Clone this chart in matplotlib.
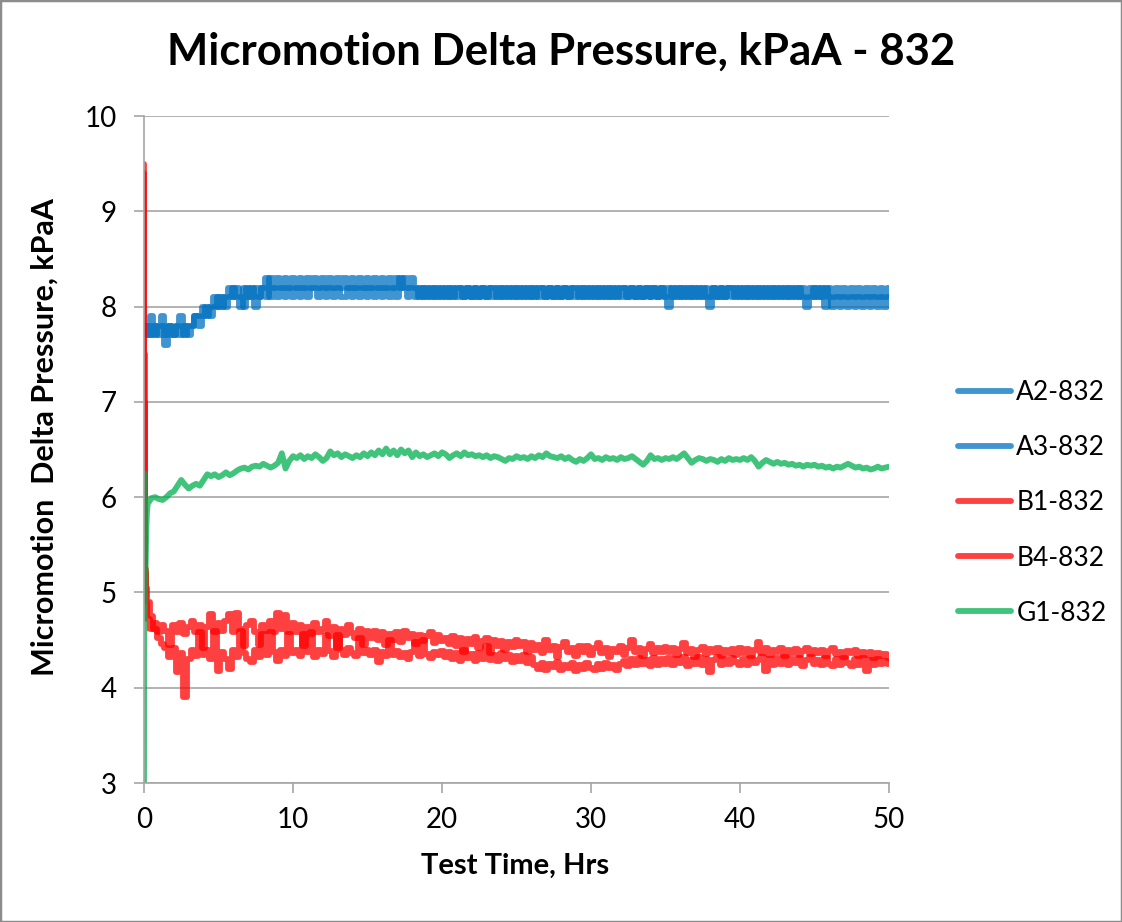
import matplotlib
matplotlib.use("Agg")
import matplotlib.pyplot as plt
import numpy as np
from matplotlib.patches import Rectangle

plt.rcParams['font.family'] = ['Lato', 'DejaVu Sans']

# sample times (hrs): a few early points for the start-up transient, then every 0.25 hr
time_early = [0.0, 0.02, 0.05, 0.1, 0.15, 0.2]
time_hrs = time_early + list(np.arange(0.25, 50.001, 0.25))

a2_832 = [7.7, 7.7, 7.8, 7.7, 7.8, 7.7,
          7.7, 7.9, 7.7, 7.8, 7.9, 7.6, 7.8, 7.7, 7.8, 7.9, 7.7, 7.8, 7.8, 7.9, 7.9, 8.0, 7.9, 8.0, 8.1, 8.0,
          8.1, 8.0, 8.1, 8.2, 8.1, 8.0, 8.2, 8.1, 8.2, 8.0, 8.1, 8.2, 8.3, 8.1, 8.2, 8.1, 8.2, 8.1, 8.2, 8.1,
          8.2, 8.1, 8.2, 8.1, 8.2, 8.2, 8.1, 8.2, 8.1, 8.2, 8.1, 8.2, 8.1, 8.1, 8.2, 8.1, 8.2, 8.1, 8.2, 8.1,
          8.2, 8.1, 8.2, 8.1, 8.2, 8.1, 8.2, 8.1, 8.3, 8.2, 8.1, 8.2, 8.1, 8.2, 8.1, 8.2, 8.1, 8.2, 8.1, 8.2,
          8.1, 8.2, 8.1, 8.2, 8.2, 8.1, 8.2, 8.1, 8.2, 8.1, 8.2, 8.1, 8.2, 8.2, 8.1, 8.2, 8.1, 8.2, 8.1, 8.2,
          8.1, 8.2, 8.1, 8.2, 8.1, 8.2, 8.2, 8.1, 8.2, 8.1, 8.2, 8.1, 8.2, 8.1, 8.2, 8.2, 8.1, 8.2, 8.1, 8.2,
          8.1, 8.2, 8.1, 8.2, 8.1, 8.2, 8.1, 8.2, 8.2, 8.1, 8.2, 8.1, 8.2, 8.1, 8.2, 8.1, 8.2, 8.1, 8.2, 8.1,
          8.0, 8.2, 8.1, 8.2, 8.1, 8.2, 8.1, 8.2, 8.1, 8.2, 8.1, 8.0, 8.2, 8.1, 8.2, 8.1, 8.2, 8.2, 8.1, 8.2,
          8.1, 8.2, 8.1, 8.2, 8.1, 8.2, 8.1, 8.2, 8.1, 8.2, 8.1, 8.2, 8.1, 8.2, 8.1, 8.2, 8.1, 8.0, 8.1, 8.2,
          8.1, 8.2, 8.0, 8.2, 8.1, 8.2, 8.1, 8.2, 8.1, 8.2, 8.1, 8.2, 8.1, 8.2, 8.1, 8.2, 8.1, 8.2, 8.1, 8.2]

a3_832 = [7.7, 7.8, 7.7, 7.8, 7.7, 7.8,
          7.8, 7.7, 7.8, 7.7, 7.8, 7.7, 7.8, 7.7, 7.8, 7.7, 7.8, 7.7, 7.8, 7.9, 7.8, 7.9, 8.0, 7.9, 8.0, 8.1,
          8.0, 8.1, 8.2, 8.1, 8.2, 8.1, 8.0, 8.2, 8.1, 8.2, 8.1, 8.2, 8.1, 8.3, 8.2, 8.3, 8.2, 8.3, 8.2, 8.3,
          8.2, 8.3, 8.2, 8.3, 8.2, 8.3, 8.2, 8.3, 8.2, 8.3, 8.2, 8.3, 8.2, 8.3, 8.2, 8.3, 8.2, 8.3, 8.2, 8.3,
          8.2, 8.3, 8.2, 8.3, 8.2, 8.3, 8.2, 8.3, 8.2, 8.3, 8.2, 8.3, 8.2, 8.1, 8.2, 8.1, 8.2, 8.1, 8.2, 8.1,
          8.2, 8.1, 8.2, 8.1, 8.2, 8.1, 8.2, 8.1, 8.2, 8.1, 8.2, 8.1, 8.2, 8.1, 8.2, 8.1, 8.2, 8.1, 8.2, 8.1,
          8.2, 8.1, 8.2, 8.1, 8.2, 8.1, 8.2, 8.1, 8.2, 8.1, 8.2, 8.1, 8.2, 8.1, 8.2, 8.1, 8.2, 8.1, 8.2, 8.1,
          8.2, 8.1, 8.2, 8.1, 8.2, 8.1, 8.2, 8.1, 8.2, 8.1, 8.2, 8.1, 8.2, 8.1, 8.2, 8.1, 8.2, 8.1, 8.2, 8.1,
          8.2, 8.1, 8.2, 8.1, 8.2, 8.1, 8.2, 8.1, 8.2, 8.1, 8.2, 8.1, 8.2, 8.1, 8.2, 8.1, 8.2, 8.1, 8.2, 8.1,
          8.2, 8.1, 8.2, 8.1, 8.2, 8.1, 8.2, 8.1, 8.2, 8.1, 8.2, 8.1, 8.2, 8.1, 8.2, 8.1, 8.2, 8.1, 8.2, 8.1,
          8.2, 8.1, 8.2, 8.1, 8.0, 8.1, 8.0, 8.1, 8.0, 8.1, 8.0, 8.1, 8.0, 8.1, 8.0, 8.1, 8.0, 8.1, 8.0, 8.1]

b1_832 = [9.5, 7.5, 5.8, 5.2, 4.9, 4.75,
          4.72, 4.62, 4.68, 4.58, 4.66, 4.60, 4.45, 4.66, 4.58, 4.68, 4.56, 4.64, 4.70, 4.58, 4.66, 4.42, 4.64, 4.77, 4.58, 4.68,
          4.60, 4.70, 4.77, 4.58, 4.78, 4.62, 4.44, 4.66, 4.70, 4.58, 4.45, 4.66, 4.60, 4.70, 4.58, 4.78, 4.62, 4.76, 4.58, 4.68,
          4.58, 4.66, 4.44, 4.64, 4.56, 4.68, 4.58, 4.62, 4.70, 4.54, 4.64, 4.42, 4.62, 4.55, 4.66, 4.57, 4.52, 4.62, 4.45, 4.60,
          4.52, 4.60, 4.50, 4.58, 4.45, 4.56, 4.50, 4.58, 4.48, 4.60, 4.52, 4.56, 4.46, 4.55, 4.49, 4.54, 4.58, 4.47, 4.55, 4.49,
          4.52, 4.46, 4.54, 4.44, 4.52, 4.38, 4.51, 4.46, 4.53, 4.42, 4.49, 4.52, 4.36, 4.50, 4.44, 4.49, 4.40, 4.48, 4.43, 4.50,
          4.44, 4.48, 4.38, 4.47, 4.40, 4.45, 4.36, 4.50, 4.40, 4.44, 4.32, 4.43, 4.48, 4.38, 4.42, 4.33, 4.44, 4.38, 4.44, 4.34,
          4.42, 4.47, 4.36, 4.42, 4.32, 4.41, 4.38, 4.44, 4.34, 4.42, 4.50, 4.38, 4.42, 4.33, 4.41, 4.46, 4.36, 4.42, 4.38, 4.43,
          4.38, 4.42, 4.34, 4.41, 4.47, 4.36, 4.41, 4.32, 4.40, 4.43, 4.35, 4.41, 4.37, 4.42, 4.33, 4.40, 4.36, 4.41, 4.34, 4.42,
          4.36, 4.41, 4.33, 4.40, 4.48, 4.36, 4.42, 4.34, 4.40, 4.37, 4.42, 4.33, 4.40, 4.36, 4.41, 4.34, 4.39, 4.42, 4.35, 4.40,
          4.36, 4.40, 4.33, 4.39, 4.42, 4.35, 4.38, 4.32, 4.39, 4.36, 4.40, 4.33, 4.37, 4.34, 4.38, 4.31, 4.36, 4.33, 4.35, 4.31]

b4_832 = [9.4, 7.0, 5.6, 5.25, 5.05, 4.95,
          4.90, 4.75, 4.62, 4.52, 4.46, 4.42, 4.32, 4.42, 4.16, 4.36, 3.90, 4.30, 4.40, 4.33, 4.58, 4.34, 4.40, 4.30, 4.60, 4.18,
          4.38, 4.30, 4.20, 4.40, 4.32, 4.60, 4.36, 4.30, 4.27, 4.40, 4.32, 4.56, 4.34, 4.58, 4.38, 4.28, 4.40, 4.33, 4.56, 4.36,
          4.40, 4.33, 4.56, 4.37, 4.58, 4.32, 4.40, 4.35, 4.55, 4.39, 4.32, 4.55, 4.40, 4.34, 4.42, 4.36, 4.33, 4.52, 4.36, 4.40,
          4.34, 4.40, 4.27, 4.38, 4.33, 4.50, 4.34, 4.39, 4.32, 4.36, 4.30, 4.38, 4.48, 4.33, 4.50, 4.35, 4.31, 4.38, 4.34, 4.39,
          4.32, 4.38, 4.30, 4.36, 4.28, 4.40, 4.31, 4.35, 4.28, 4.36, 4.30, 4.44, 4.29, 4.34, 4.28, 4.36, 4.30, 4.34, 4.27, 4.33,
          4.28, 4.34, 4.26, 4.32, 4.24, 4.20, 4.26, 4.19, 4.25, 4.22, 4.27, 4.19, 4.24, 4.21, 4.26, 4.18, 4.24, 4.20, 4.26, 4.21,
          4.19, 4.25, 4.20, 4.26, 4.21, 4.24, 4.19, 4.25, 4.28, 4.23, 4.30, 4.24, 4.31, 4.25, 4.29, 4.23, 4.31, 4.24, 4.30, 4.25,
          4.31, 4.24, 4.30, 4.26, 4.32, 4.23, 4.29, 4.25, 4.32, 4.24, 4.30, 4.16, 4.29, 4.32, 4.24, 4.30, 4.25, 4.31, 4.27, 4.24,
          4.30, 4.24, 4.31, 4.26, 4.29, 4.32, 4.18, 4.30, 4.24, 4.31, 4.25, 4.32, 4.24, 4.30, 4.26, 4.31, 4.23, 4.29, 4.32, 4.25,
          4.29, 4.24, 4.31, 4.25, 4.23, 4.30, 4.24, 4.31, 4.26, 4.23, 4.30, 4.24, 4.31, 4.18, 4.29, 4.24, 4.30, 4.25, 4.28, 4.25]

g1_832 = [3.0, 6.25, 4.6, 5.2, 5.65, 5.85,
          5.93, 5.99, 6.00, 5.98, 5.97, 6.00, 6.04, 6.06, 6.12, 6.18, 6.13, 6.09, 6.12, 6.14, 6.12, 6.18, 6.24, 6.22, 6.24, 6.21,
          6.23, 6.26, 6.23, 6.25, 6.28, 6.30, 6.31, 6.29, 6.32, 6.33, 6.32, 6.35, 6.33, 6.31, 6.33, 6.36, 6.46, 6.30, 6.38, 6.43,
          6.41, 6.44, 6.40, 6.43, 6.41, 6.45, 6.42, 6.38, 6.41, 6.48, 6.44, 6.46, 6.42, 6.45, 6.43, 6.41, 6.44, 6.42, 6.46, 6.43,
          6.47, 6.44, 6.49, 6.45, 6.51, 6.45, 6.49, 6.44, 6.50, 6.46, 6.49, 6.42, 6.47, 6.43, 6.45, 6.42, 6.44, 6.46, 6.43, 6.47,
          6.45, 6.41, 6.44, 6.46, 6.43, 6.47, 6.44, 6.45, 6.43, 6.44, 6.42, 6.44, 6.41, 6.43, 6.42, 6.40, 6.38, 6.41, 6.40, 6.43,
          6.41, 6.42, 6.40, 6.43, 6.41, 6.44, 6.42, 6.46, 6.43, 6.42, 6.41, 6.43, 6.40, 6.42, 6.39, 6.37, 6.40, 6.38, 6.41, 6.45,
          6.40, 6.41, 6.39, 6.42, 6.40, 6.41, 6.39, 6.42, 6.40, 6.41, 6.43, 6.40, 6.37, 6.34, 6.38, 6.44, 6.40, 6.41, 6.39, 6.41,
          6.40, 6.42, 6.40, 6.43, 6.46, 6.41, 6.36, 6.39, 6.41, 6.40, 6.38, 6.40, 6.39, 6.37, 6.40, 6.38, 6.41, 6.39, 6.40, 6.39,
          6.41, 6.39, 6.42, 6.38, 6.32, 6.36, 6.39, 6.37, 6.35, 6.37, 6.35, 6.36, 6.34, 6.35, 6.33, 6.34, 6.32, 6.34, 6.33, 6.34,
          6.32, 6.33, 6.31, 6.32, 6.30, 6.32, 6.31, 6.33, 6.35, 6.33, 6.31, 6.32, 6.30, 6.31, 6.29, 6.30, 6.32, 6.30, 6.31, 6.32]

series_names = ["A2-832", "A3-832", "B1-832", "B4-832", "G1-832"]
series_values = [a2_832, a3_832, b1_832, b4_832, g1_832]
series_colors = ["#0070c0", "#0070c0", "#ff0000", "#ff0000", "#00b050"]
# blue and red gauges read in steps, green is a smooth trace
series_steps = ["steps-mid", "steps-mid", "steps-mid", "steps-mid", "default"]

x_ticks = [0, 10, 20, 30, 40, 50]
y_ticks = [3, 4, 5, 6, 7, 8, 9, 10]

fig = plt.figure(figsize=(11.22, 9.22), dpi=100)
ax = fig.add_axes([144 / 1122, 1 - 783 / 922, 745 / 1122, 667 / 922])

for name, vals, col, ds in zip(series_names, series_values, series_colors, series_steps):
    ax.plot(time_hrs, vals, color=col, alpha=0.75, linewidth=4.2, label=name,
            drawstyle=ds, solid_joinstyle="round", solid_capstyle="round")

ax.set_xlim(0, 50)
ax.set_ylim(3, 10)
ax.set_xticks(x_ticks)
ax.set_yticks(y_ticks)
ax.grid(axis="y", color="#a6a6a6", linewidth=1.2)
ax.set_axisbelow(True)
for s in ["top", "right"]:
    ax.spines[s].set_visible(False)
for s in ["left", "bottom"]:
    ax.spines[s].set_color("#a6a6a6")
    ax.spines[s].set_linewidth(1.2)
ax.tick_params(axis="both", colors="#a6a6a6", labelcolor="black", labelsize=20,
               length=7.5, width=1.2, direction="out")
ax.tick_params(axis="x", pad=10)
ax.tick_params(axis="y", pad=12)

ax.set_xlabel("Test Time, Hrs", fontsize=21, fontweight="bold")
ax.set_ylabel("Micromotion  Delta Pressure, kPaA", fontsize=22, fontweight="bold")
ax.xaxis.set_label_coords(0.498, -0.105)
ax.yaxis.set_label_coords(-0.115, 0.519)

fig.text(0.5, 1 - 52 / 922, "Micromotion Delta Pressure, kPaA - 832",
         fontsize=31.5, fontweight="bold", ha="center", va="center")

ax.legend(loc="center left", bbox_to_anchor=(945 / 1122, 1 - 503 / 922),
          bbox_transform=fig.transFigure, frameon=False, fontsize=19,
          handlelength=2.0, handletextpad=0.2, labelspacing=1.14, borderpad=0)

fig.patches.append(Rectangle((0, 0), 1, 1, transform=fig.transFigure, fill=False,
                             edgecolor="#8c8c8c", linewidth=2.5))

fig.savefig("out.png", dpi=100)
